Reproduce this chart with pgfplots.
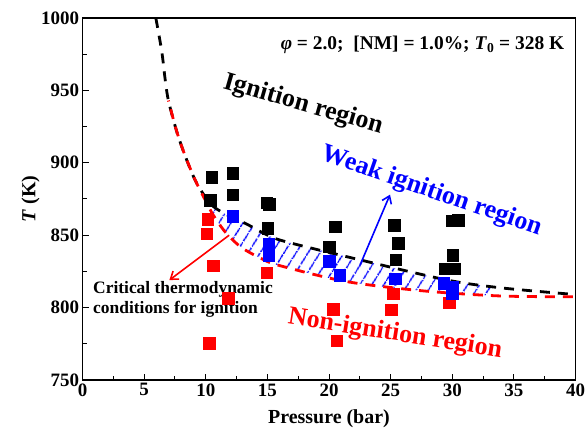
\documentclass[border=0pt]{standalone}
\usepackage{pgfplots}
\pgfplotsset{compat=1.18}
\usepackage{fontspec}
\setmainfont{Liberation Serif}
\usepgfplotslibrary{fillbetween}
\usetikzlibrary{patterns.meta,arrows.meta}

\begin{document}
\begin{tikzpicture}
\begin{axis}[
  scale only axis, width=493bp, height=362bp,
  xmin=0, xmax=40, ymin=750, ymax=1000,
  xtick={0,5,...,40}, ytick={750,800,...,1000},
  minor x tick num=1, minor y tick num=1,
  xtick pos=bottom, ytick pos=left, tick align=inside,
  major tick length=6bp, minor tick length=4bp,
  every tick/.style={black, line width=1pt},
  axis line style={line width=1.3pt},
  /pgf/number format/assume math mode=true,
  /pgf/number format/1000 sep={},
  tick label style={font=\fontsize{19}{22}\selectfont\bfseries},
  xlabel={\textbf{Pressure (bar)}},
  ylabel={\textbf{\textit{T} (K)}},
  label style={font=\fontsize{20}{22}\selectfont},
  x label style={at={(axis description cs:0.5,-0.1215)}, anchor=base},
  y label style={at={(axis description cs:-0.1055,0.5)}, anchor=center},
  clip=true,
]
% boundaries
\addplot[black, line width=2.8bp, dash pattern=on 10bp off 8bp, smooth, tension=0.5, name path=blk] coordinates {
(5.95,1000) (6.43,977) (6.7,958) (6.97,943) (7.65,921.5) (8.32,905) (9.2,887) (10.35,872) (11.5,865) (13.25,858) (14.9,850.5) (16.5,845.5) (22.5,833) (29.6,819) (34.1,813.5) (40,809)
};
\addplot[red, line width=2.8bp, dash pattern=on 10bp off 8bp, dash phase=9bp, smooth, tension=0.5, name path=rd] coordinates {
(6.97,943) (7.65,921.5) (8.32,905) (9.2,887) (10.1,872) (10.6,864) (11.6,852) (12.9,841.5) (14.6,833.5) (16,829) (21.4,818) (27.7,811.5) (34,808) (40,807.5)
};
\addplot[draw=none, pattern={Lines[angle=58,distance=10bp,line width=1.6bp]}, pattern color=blue]
  fill between[of=blk and rd, soft clip={domain=10.5:33.5}];

% non-ignition
\addplot[only marks, mark=square*, mark size=5.8pt, color=red] coordinates {
(10.16,861) (10.08,851) (10.6,829) (11.83,806.5) (10.3,775.5) (14.95,824)
(20.36,799) (20.63,777) (25.23,809.5) (25.04,798.5) (29.77,803.5)
};
% weak ignition
\addplot[only marks, mark=square*, mark size=5.8pt, color=blue] coordinates {
(12.2,863) (15.1,844) (15.1,840) (15.1,836) (20.0,832) (20.85,822.5)
(25.35,820) (29.3,817) (30.0,814) (30.0,810)
};
% ignition
\addplot[only marks, mark=square*, mark size=5.8pt, color=black] coordinates {
(10.35,874) (10.5,890) (12.2,893) (12.2,878) (14.95,872.5) (15.15,871.5) (15.03,855)
(20.5,856) (20.03,842) (25.3,857) (25.6,844.5) (25.4,833)
(30.0,860) (30.5,860.5) (30.05,836) (29.4,827) (30.2,827)
};

% arrows
\draw[red, line width=1.6bp, -{Straight Barb[length=7bp,width=10bp]}] (axis cs:11.9,850) -- (axis cs:7.05,819);
\draw[blue, line width=1.6bp, -{Straight Barb[length=7bp,width=10bp]}] (axis cs:22.5,829) -- (axis cs:24.95,878);

% texts
\node[anchor=base east, inner sep=0pt, font=\fontsize{19.5}{22}\selectfont\bfseries] at (axis cs:39.1,978)
  {\textit{φ} = 2.0;~ [NM] = 1.0\%; \textit{T}\textsubscript{0} = 328 K};
\node[rotate=-16, font=\fontsize{26}{28}\selectfont\bfseries, black] at (axis cs:17.9,940) {Ignition region};
\node[rotate=-19, font=\fontsize{26}{28}\selectfont\bfseries, blue] at (axis cs:28.3,880) {Weak ignition region};
\node[rotate=-9, font=\fontsize{26}{28}\selectfont\bfseries, red] at (axis cs:25.36,781.5) {Non-ignition region};
\node[anchor=north west, inner sep=0pt, align=left, font=\fontsize{17.5}{20}\selectfont\bfseries] at (axis cs:0.85,818.5)
  {Critical thermodynamic\\conditions for ignition};

\coordinate (bl) at (rel axis cs:0,0);
\coordinate (tr) at (rel axis cs:1,1);
\end{axis}
\pgfresetboundingbox
\path[use as bounding box] ([xshift=-82.5bp,yshift=-49bp]bl) rectangle ([xshift=11.5bp,yshift=18bp]tr);
\end{tikzpicture}
\end{document}
